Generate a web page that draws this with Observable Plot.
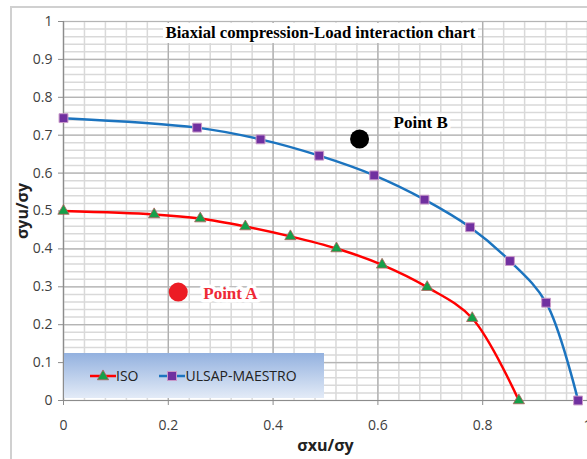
<!DOCTYPE html>
<html>
<head>
<meta charset="utf-8">
<script src="https://cdn.jsdelivr.net/npm/d3@7"></script>
<script src="https://cdn.jsdelivr.net/npm/@observablehq/plot@0.6"></script>
<style>
  body { margin: 0; background: #fff; }
  #wrap { position: relative; width: 587px; height: 459px; overflow: hidden; background: #fff; }
  #border { position: absolute; left: 10px; top: 6px; width: 600px; height: 470px; border-top: 2px solid #d0d0d0; border-left: 2px solid #d0d0d0; }
  #chart { position: absolute; left: 0; top: 0; }
  #title { position: absolute; left: 163px; top: 23px; width: 315px; height: 20px; background: #fff;
           font-family: "Liberation Serif", serif; font-weight: bold; font-size: 16.7px; line-height: 20px; text-align: center; color: #000; white-space: nowrap; }
  #legend { position: absolute; left: 64px; top: 353px; width: 260px; height: 45px;
            background: linear-gradient(to bottom, #93b1df, #e3ebf7); display: flex; align-items: center;
            font-family: "Open Sans", sans-serif; font-size: 14px; color: #222; }
  #legend .item { display: flex; align-items: center; margin-left: 26px; }
  #legend .item + .item { margin-left: 21px; }
</style>
</head>
<body>
<div id="wrap">
  <div id="border"></div>
  <div id="chart"></div>
  <div id="title">Biaxial compression-Load interaction chart</div>
  <div id="legend"></div>
</div>
<script>
// ---- data ----
const isoX = [0, 0.173, 0.261, 0.347, 0.433, 0.521, 0.608, 0.694, 0.780, 0.869];
const isoY = [0.500, 0.491, 0.480, 0.459, 0.433, 0.401, 0.358, 0.299, 0.217, 0.0];
const ulsapX = [0, 0.255, 0.376, 0.488, 0.593, 0.689, 0.776, 0.852, 0.921, 0.982];
const ulsapY = [0.745, 0.720, 0.689, 0.646, 0.594, 0.530, 0.457, 0.368, 0.258, 0.0];
const pointNames = ["Point A", "Point B"];
const pointX = [0.219, 0.565];
const pointY = [0.286, 0.690];
const xTicks = [0, 0.2, 0.4, 0.6, 0.8, 1];
const yTicks = [0, 0.1, 0.2, 0.3, 0.4, 0.5, 0.6, 0.7, 0.8, 0.9, 1];
const seriesNames = ["ISO", "ULSAP-MAESTRO"];
const xLabel = "σxu/σy";
const yLabel = "σyu/σy";

// ---- derived tables ----
const iso = isoX.map((x, i) => ({x, y: isoY[i]}));
const ulsap = ulsapX.map((x, i) => ({x, y: ulsapY[i]}));
const points = pointNames.map((name, i) => ({name, x: pointX[i], y: pointY[i]}));
const xMinor = d3.range(0, 26).map(i => i * 0.04);
const yMinor = d3.range(0, 51).map(i => i * 0.02);

const red = "#ff0000", blue = "#1c74bf", green = "#15a04a", purple = "#7030a0";

const chart = Plot.plot({
  width: 587,
  height: 459,
  marginLeft: 63,
  marginRight: 0,
  marginTop: 21,
  marginBottom: 59,
  style: {fontFamily: "Open Sans, sans-serif", fontSize: "14px", color: "#404040", background: "transparent"},
  x: {domain: [0, 1]},
  y: {domain: [0, 1]},
  marks: [
    Plot.ruleX(xMinor, {stroke: "#d9d9d9", strokeWidth: 1.5}),
    Plot.ruleY(yMinor, {stroke: "#d9d9d9", strokeWidth: 1.5}),
    Plot.ruleX(xTicks, {stroke: "#ababab", strokeWidth: 1.2}),
    Plot.ruleY(yTicks, {stroke: "#b5b5b5", strokeWidth: 1.2}),
    Plot.ruleX([0], {stroke: "#8c8c8c", strokeWidth: 1.2}),
    Plot.ruleY([0], {stroke: "#8c8c8c", strokeWidth: 1.2}),
    Plot.axisX({ticks: xTicks, tickFormat: d => String(+d.toFixed(1)), tickSize: 5, tickPadding: 15, stroke: "#8c8c8c", label: null}),
    Plot.axisY({ticks: yTicks, tickFormat: d => String(+d.toFixed(1)), tickSize: 5, tickPadding: 6, stroke: "#8c8c8c", label: null}),
    Plot.text([xLabel], {frameAnchor: "bottom", dy: 50, fontWeight: "bold", fontSize: 16, fill: "#222"}),
    Plot.text([yLabel], {frameAnchor: "left", textAnchor: "middle", dx: -41, rotate: -90, fontWeight: "bold", fontSize: 16, fill: "#222"}),
    Plot.line(iso, {x: "x", y: "y", curve: "catmull-rom", stroke: red, strokeWidth: 2.5}),
    Plot.line(ulsap, {x: "x", y: "y", curve: "catmull-rom", stroke: blue, strokeWidth: 2.5}),
    Plot.dot(iso, {x: "x", y: "y", symbol: "triangle", r: 4.2, fill: green, stroke: "#b0605a", strokeWidth: 0.8}),
    Plot.dot(ulsap, {x: "x", y: "y", symbol: "square", r: 5, fill: purple, stroke: "#c99ac9", strokeWidth: 1}),
    Plot.dot(points, {x: "x", y: "y", r: 9.5, fill: (d, i) => i === 0 ? "#ec1c24" : "#000"}),
    Plot.text(points.slice(0, 1), {x: "x", y: "y", text: "name", textAnchor: "start", dx: 25, dy: 1,
      fill: "#ee2a36", stroke: "white", strokeWidth: 7, fontWeight: "bold", fontSize: 17, fontFamily: "Liberation Serif, serif"}),
    Plot.text(points.slice(1), {x: "x", y: "y", text: "name", textAnchor: "start", dx: 34, dy: -16,
      fill: "#000", stroke: "white", strokeWidth: 7, fontWeight: "bold", fontSize: 17, fontFamily: "Liberation Serif, serif"})
  ]
});
document.getElementById("chart").appendChild(chart);

// ---- legend ----
const legend = d3.select("#legend");
seriesNames.forEach((name, i) => {
  const item = legend.append("div").attr("class", "item");
  const svg = item.append("svg").attr("width", 26).attr("height", 14);
  svg.append("line").attr("x1", 0).attr("x2", 26).attr("y1", 7).attr("y2", 7)
     .attr("stroke", i === 0 ? red : blue).attr("stroke-width", 2.5);
  if (i === 0) {
    svg.append("path").attr("d", d3.symbol(d3.symbolTriangle, 4.2 * 4.2 * Math.PI)()).attr("transform", "translate(13,7.5)")
       .attr("fill", green).attr("stroke", "#b0605a").attr("stroke-width", 0.8);
  } else {
    svg.append("rect").attr("x", 8.5).attr("y", 2.5).attr("width", 9).attr("height", 9)
       .attr("fill", purple).attr("stroke", "#c99ac9");
  }
  item.append("span").text(name);
});
</script>
</body>
</html>
